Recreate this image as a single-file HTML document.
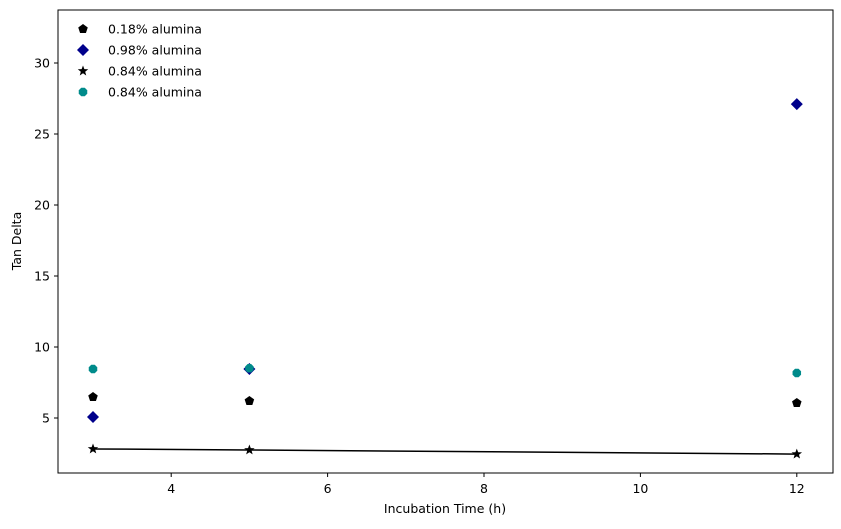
<!DOCTYPE html>
<html><head><meta charset="utf-8"><style>
body{margin:0;background:#fff;font-family:"DejaVu Sans","Liberation Sans",sans-serif}
text{font-family:"DejaVu Sans","Liberation Sans",sans-serif;font-size:12.5px;fill:#000}
</style></head><body>
<svg id="chart" width="841" height="525" xmlns="http://www.w3.org/2000/svg">
<rect x="58" y="10" width="775" height="463" fill="#fff" stroke="#000" stroke-width="1"/>
<g id="ticks"></g><g id="marks"></g><g id="legend"></g>
<text x="445" y="513" text-anchor="middle">Incubation Time (h)</text>
<text transform="translate(21,241) rotate(-90)" text-anchor="middle">Tan Delta</text>
</svg>
<script>
const xCats=[3,5,12];
const s018=[6.48,6.2,6.06];
const s098=[5.07,8.45,27.1];
const s084star=[2.82,2.75,2.46];
const s084teal=[8.45,8.5,8.17];
const xTicks=[4,6,8,10,12];
const yTicks=[5,10,15,20,25,30];
const NS="http://www.w3.org/2000/svg";
const X=v=>171.2+(v-4)*78.2, Y=v=>489-v*14.2;
function mk(t,a,p){const e=document.createElementNS(NS,t);for(const k in a)e.setAttribute(k,a[k]);p.appendChild(e);return e;}
const tg=document.getElementById('ticks');
xTicks.forEach(v=>{const l=mk('line',{x1:X(v),x2:X(v),y1:473,y2:477,stroke:'#000'},tg);


const t=mk('text',{x:X(v),y:493,'text-anchor':'middle'},tg);t.textContent=v;

});
yTicks.forEach(v=>{const l=mk('line',{x1:54,x2:58,y1:Y(v),y2:Y(v),stroke:'#000'},tg);


const t=mk('text',{x:50,y:Y(v)+4.5,'text-anchor':'end'},tg);t.textContent=v;

});
function shape(kind,cx,cy,color,p){
 let pts=[];
 if(kind==='pent'){for(let i=0;i<5;i++){const a=-Math.PI/2+i*2*Math.PI/5;pts.push([cx+5*Math.cos(a),cy+5*Math.sin(a)]);}}
 else if(kind==='dia'){pts=[[cx,cy-6],[cx+6,cy],[cx,cy+6],[cx-6,cy]];}
 else if(kind==='star'){for(let i=0;i<10;i++){const r=i%2?2.3:5.5;const a=-Math.PI/2+i*Math.PI/5;pts.push([cx+r*Math.cos(a),cy+r*Math.sin(a)]);}}
 else {for(let i=0;i<8;i++){const a=Math.PI/8+i*Math.PI/4;pts.push([cx+4.6*Math.cos(a),cy+4.6*Math.sin(a)]);}}
 return mk('polygon',{points:pts.map(q=>q.join(',')).join(' '),fill:color},p);
}
const mg=document.getElementById('marks');
const line=mk('polyline',{points:xCats.map((x,i)=>X(x)+','+Y(s084star[i])).join(' '),fill:'none',stroke:'#000','stroke-width':1.5},mg);


const series=[[s018,'pent','#000','0.18% alumina'],[s098,'dia','#00008b','0.98% alumina'],[s084star,'star','#000','0.84% alumina'],[s084teal,'oct','#008b8b','0.84% alumina']];
series.forEach((s,si)=>{s[0].forEach((v,i)=>{const e=shape(s[1],X(xCats[i]),Y(v),s[2],mg);

});});
const lg=document.getElementById('legend');
series.forEach((s,i)=>{const y=29+i*21;const e=shape(s[1],83,y,s[2],lg);


const t=mk('text',{x:108,y:y+4.5},lg);t.textContent=s[3];

});
</script>
</body></html>
